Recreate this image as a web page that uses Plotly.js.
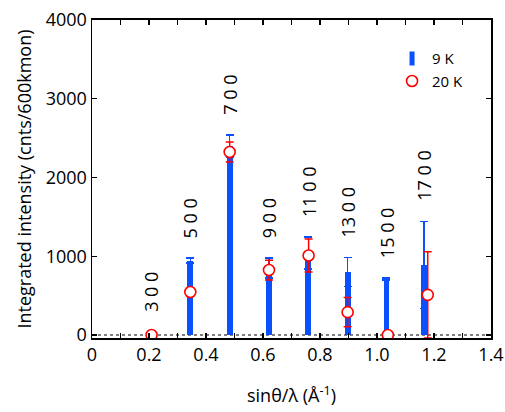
<!DOCTYPE html>
<html>
<head>
<meta charset="utf-8">
<script src="https://cdn.plot.ly/plotly-3.0.1.min.js"></script>
<style>html,body{margin:0;padding:0;background:#fff;}</style>
</head>
<body>
<div id="chart" style="width:505px;height:412px;"></div>
<script>
// Reflection labels (h k l)
const hklLabels = ["3 0 0", "5 0 0", "7 0 0", "9 0 0", "11 0 0", "13 0 0", "15 0 0", "17 0 0"];
// 9 K data
const q9K = [0.207, 0.345, 0.483, 0.621, 0.759, 0.897, 1.033, 1.165];
const int9K = [20, 945, 2400, 850, 1040, 800, 711, 889];
const err9K = [20, 30, 140, 125, 203, 185, 10, 555];
// 20 K data
const q20K = [0.209, 0.345, 0.483, 0.621, 0.760, 0.897, 1.038, 1.178];
const int20K = [0, 546, 2324, 825, 1010, 290, 0, 510];
const err20K = [40, 40, 127, 125, 210, 185, 20, 548];
// axis ticks
const xTickVals = [0, 0.2, 0.4, 0.6, 0.8, 1.0, 1.2, 1.4];
const xTickText = ["0", "0.2", "0.4", "0.6", "0.8", "1.0", "1.2", "1.4"];
const yTickVals = [0, 1000, 2000, 3000, 4000];

const BLUE = "#0a50ff";
const RED = "#ff0000";
const FONT = "Open Sans, Noto Sans, sans-serif";

const traces = [
  { // legend proxy for 9 K
    x: [null], y: [null], type: "scatter", mode: "markers", name: "9 K",
    marker: { symbol: "line-ns-open", size: 10, color: BLUE, line: { color: BLUE, width: 5 } },
    hoverinfo: "skip"
  },
  {
    x: q9K, y: int9K, type: "bar", name: "9 K", showlegend: false,
    width: 0.02,
    marker: { color: BLUE, line: { width: 0 } },
    error_y: { type: "data", array: err9K, visible: true, color: BLUE, thickness: 1.5, width: 4 }
  },
  {
    x: q20K, y: int20K, type: "scatter", mode: "markers", name: "20 K",
    marker: { symbol: "circle", size: 11, color: "#ffffff", line: { color: RED, width: 1.6 } },
    error_y: { type: "data", array: err20K, visible: true, color: RED, thickness: 1.5, width: 4 }
  }
];

const annotations = hklLabels.map((t, i) => ({
  x: q9K[i], y: Math.max(int9K[i] + err9K[i], int20K[i] + err20K[i]),
  xref: "x", yref: "y", text: t, showarrow: false, textangle: -90,
  xanchor: "center", yanchor: "bottom", yshift: 18,
  font: { family: FONT, size: 18, color: "#000" }
}));

const layout = {
  width: 505, height: 412,
  margin: { l: 92, r: 14, t: 20, b: 74 },
  paper_bgcolor: "#fff", plot_bgcolor: "#fff",
  font: { family: FONT, color: "#000" },
  showlegend: true,
  legend: {
    x: 0.752, y: 0.93, xanchor: "left", yanchor: "top",
    bgcolor: "rgba(0,0,0,0)", borderwidth: 0,
    font: { family: FONT, size: 15, color: "#000" }
  },
  xaxis: {
    range: [0, 1.4], tickmode: "array", tickvals: xTickVals, ticktext: xTickText,
    ticks: "inside", ticklen: 5, tickwidth: 1.2, tickcolor: "#000",
    minor: { tickmode: "linear", tick0: 0, dtick: 0.1, ticks: "inside", ticklen: 5, tickwidth: 1.2, tickcolor: "#000", showgrid: false },
    showline: true, linecolor: "#000", linewidth: 1.8, mirror: "ticks",
    showgrid: false, zeroline: false,
    tickfont: { family: FONT, size: 18, color: "#000" },
    title: { text: "sinθ/λ (Å<sup>-1</sup>)", font: { family: FONT, size: 18, color: "#000" }, standoff: 24 }
  },
  yaxis: {
    range: [-38, 4000], tickmode: "array", tickvals: yTickVals,
    ticks: "inside", ticklen: 5, tickwidth: 1.2, tickcolor: "#000",
    showline: true, linecolor: "#000", linewidth: 1.5, mirror: "ticks",
    showgrid: false, zeroline: false,
    tickfont: { family: FONT, size: 18, color: "#000" },
    title: { text: "Integrated intensity (cnts/600kmon)", font: { family: FONT, size: 18, color: "#000" }, standoff: 9 }
  },
  shapes: [{
    type: "line", xref: "paper", yref: "y", x0: 0, x1: 1, y0: 0, y1: 0,
    line: { color: "#000", width: 1, dash: "dot" }, layer: "below"
  }],
  annotations: annotations,
  bargap: 0
};

Plotly.newPlot("chart", traces, layout, { displayModeBar: false, staticPlot: true });
</script>
</body>
</html>
